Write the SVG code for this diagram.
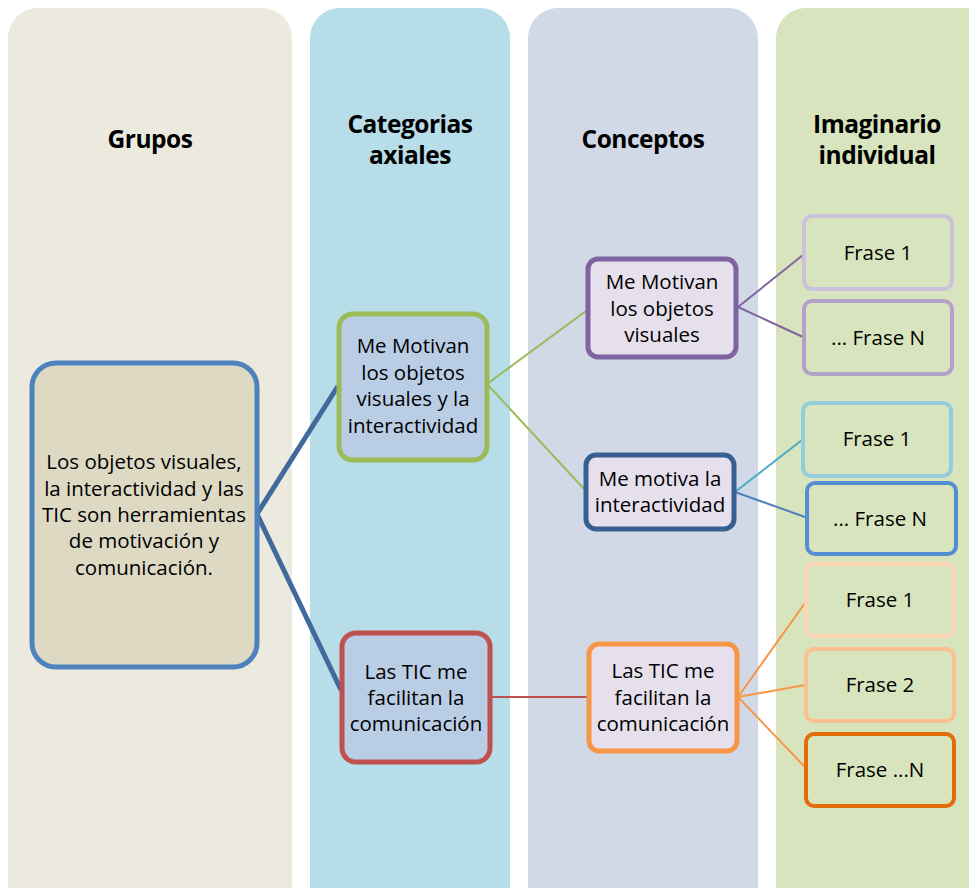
<svg xmlns="http://www.w3.org/2000/svg" width="969" height="888" viewBox="0 0 969 888">
  <style>
    text { font-family: "Open Sans", "Liberation Sans", sans-serif; fill: #000; text-anchor: middle; }
    .head { font-size: 24.5px; font-weight: bold; letter-spacing: -0.5px; }
    .lbl { font-size: 20.5px; }
    .conn line { fill: none; }
  </style>
  <rect width="969" height="888" fill="#ffffff"/>

  <!-- column bands -->
  <g id="columns">
    <rect x="8" y="8" width="284" height="910" rx="30" fill="#ECEADF"/>
    <rect x="310" y="8" width="200" height="910" rx="30" fill="#B7DDE8"/>
    <rect x="528" y="8" width="230" height="910" rx="30" fill="#D1D8E6"/>
    <rect x="776" y="8" width="230" height="910" rx="30" fill="#D8E4BD"/>
  </g>

  <g id="headings">
    <text class="head" x="150" y="148">Grupos</text>
    <text class="head" x="410" y="133">Categorias</text>
    <text class="head" x="410" y="164">axiales</text>
    <text class="head" x="643" y="148">Conceptos</text>
    <text class="head" x="877" y="133">Imaginario</text>
    <text class="head" x="877" y="164">individual</text>
  </g>

  <!-- connectors -->
  <g id="connectors" class="conn">
    <line x1="257" y1="514" x2="338" y2="386" stroke="#3F6A9B" stroke-width="5"/>
    <line x1="257" y1="514" x2="341" y2="690" stroke="#3F6A9B" stroke-width="5"/>
    <line x1="487" y1="384" x2="586" y2="311" stroke="#9BBB59" stroke-width="2"/>
    <line x1="487" y1="384" x2="584" y2="489" stroke="#9BBB59" stroke-width="2"/>
    <line x1="490" y1="697" x2="588" y2="697" stroke="#C0504D" stroke-width="2"/>
    <line x1="738" y1="307" x2="803" y2="255" stroke="#8064A2" stroke-width="2"/>
    <line x1="738" y1="307" x2="803" y2="337" stroke="#8064A2" stroke-width="2"/>
    <line x1="735" y1="492" x2="802" y2="440" stroke="#4BACC6" stroke-width="2"/>
    <line x1="735" y1="492" x2="805" y2="517" stroke="#4F81BD" stroke-width="2"/>
    <line x1="738" y1="697" x2="805" y2="603" stroke="#F79646" stroke-width="2"/>
    <line x1="738" y1="697" x2="805" y2="685" stroke="#F79646" stroke-width="2"/>
    <line x1="738" y1="697" x2="805" y2="767" stroke="#F79646" stroke-width="2"/>
  </g>

  <g id="grupo">
    <rect x="32" y="363" width="225" height="304" rx="24" fill="#DDD9C3" stroke="#4F81BD" stroke-width="5"/>
    <text class="lbl" x="144" y="469">Los objetos visuales,</text>
    <text class="lbl" x="144" y="496">la interactividad y las</text>
    <text class="lbl" x="144" y="522">TIC son herramientas</text>
    <text class="lbl" x="144" y="548">de motivación y</text>
    <text class="lbl" x="144" y="575">comunicación.</text>
  </g>

  <g id="cat-motivan">
    <rect x="339" y="314" width="148" height="146" rx="14" fill="#B9CDE5" stroke="#9BBB59" stroke-width="5"/>
    <text class="lbl" x="413" y="353">Me Motivan</text>
    <text class="lbl" x="413" y="380">los objetos</text>
    <text class="lbl" x="413" y="406">visuales y la</text>
    <text class="lbl" x="413" y="433">interactividad</text>
  </g>

  <g id="cat-tic">
    <rect x="342" y="633" width="148" height="129" rx="14" fill="#B9CDE5" stroke="#C0504D" stroke-width="5"/>
    <text class="lbl" x="416" y="679">Las TIC me</text>
    <text class="lbl" x="416" y="705">facilitan la</text>
    <text class="lbl" x="416" y="731">comunicación</text>
  </g>

  <g id="con-objetos">
    <rect x="588" y="259" width="148" height="98" rx="10" fill="#E5E0EC" stroke="#8064A2" stroke-width="5"/>
    <text class="lbl" x="662" y="289">Me Motivan</text>
    <text class="lbl" x="662" y="316">los objetos</text>
    <text class="lbl" x="662" y="342">visuales</text>
  </g>

  <g id="con-interactividad">
    <rect x="586" y="455" width="148" height="74" rx="10" fill="#E5E0EC" stroke="#376092" stroke-width="5"/>
    <text class="lbl" x="660" y="486">Me motiva la</text>
    <text class="lbl" x="660" y="512">interactividad</text>
  </g>

  <g id="con-tic">
    <rect x="589" y="644" width="148" height="107" rx="10" fill="#E5E0EC" stroke="#F79646" stroke-width="5"/>
    <text class="lbl" x="663" y="678">Las TIC me</text>
    <text class="lbl" x="663" y="705">facilitan la</text>
    <text class="lbl" x="663" y="731">comunicación</text>
  </g>

  <g id="frase-a1">
    <rect x="804" y="216" width="148" height="73" rx="8" fill="#D8E4BD" stroke="#CCC1DA" stroke-width="4"/>
    <text class="lbl" x="878" y="260">Frase 1</text>
  </g>
  <g id="frase-an">
    <rect x="804" y="301" width="148" height="73" rx="8" fill="#D8E4BD" stroke="#B3A2C7" stroke-width="4"/>
    <text class="lbl" x="878" y="345">... Frase N</text>
  </g>
  <g id="frase-b1">
    <rect x="803" y="403" width="148" height="73" rx="8" fill="#D8E4BD" stroke="#93CDDD" stroke-width="4"/>
    <text class="lbl" x="877" y="446">Frase 1</text>
  </g>
  <g id="frase-bn">
    <rect x="807" y="483" width="149" height="71" rx="8" fill="#D8E4BD" stroke="#558ED5" stroke-width="4"/>
    <text class="lbl" x="880" y="526">... Frase N</text>
  </g>
  <g id="frase-c1">
    <rect x="806" y="564" width="148" height="72" rx="8" fill="#D8E4BD" stroke="#FCD5B5" stroke-width="4"/>
    <text class="lbl" x="880" y="607">Frase 1</text>
  </g>
  <g id="frase-c2">
    <rect x="806" y="649" width="148" height="72" rx="8" fill="#D8E4BD" stroke="#FAC090" stroke-width="4"/>
    <text class="lbl" x="880" y="692">Frase 2</text>
  </g>
  <g id="frase-cn">
    <rect x="806" y="734" width="148" height="72" rx="8" fill="#D8E4BD" stroke="#E36C09" stroke-width="4"/>
    <text class="lbl" x="880" y="777">Frase ...N</text>
  </g>
</svg>
